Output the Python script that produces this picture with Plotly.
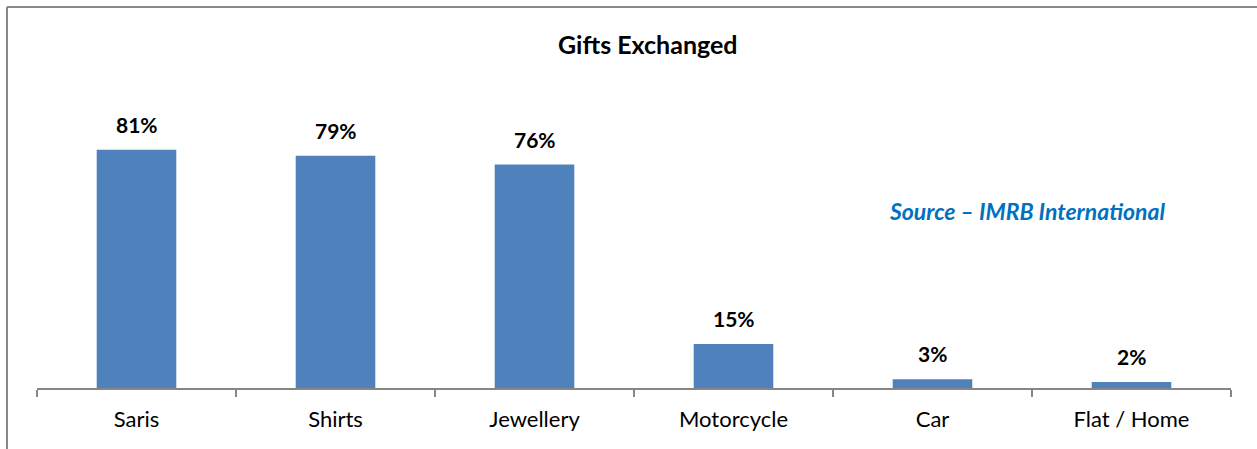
import plotly.graph_objects as go

categories = ["Saris", "Shirts", "Jewellery", "Motorcycle", "Car", "Flat / Home"]
share_pct = [81, 79, 76, 15, 3, 2]
value_labels = [f"{v}%" for v in share_pct]

W, H = 1257, 449
L, R, T, B = 37, 26, 94, 61
plot_w = W - L - R
plot_h = H - T - B

def px_x(x):
    return (x - L) / plot_w

def px_y(y):
    return (H - B - y) / plot_h

FONT = "Lato, 'Open Sans', sans-serif"

fig = go.Figure(
    go.Bar(
        x=categories,
        y=share_pct,
        marker=dict(color="#4F81BD", line=dict(width=0)),
        width=0.4,
        hoverinfo="skip",
    )
)

# value labels above each bar
for cat, v, lab in zip(categories, share_pct, value_labels):
    fig.add_annotation(
        x=cat, y=v, text=f"<b>{lab}</b>", showarrow=False,
        yanchor="bottom", yshift=11,
        font=dict(family=FONT, size=21, color="#000000"),
    )

fig.add_annotation(
    x=px_x(648), y=px_y(44), xref="paper", yref="paper",
    text="<b>Gifts Exchanged</b>", showarrow=False,
    xanchor="center", yanchor="middle",
    font=dict(family=FONT, size=25, color="#000000"),
)

fig.add_annotation(
    x=px_x(1027), y=px_y(211), xref="paper", yref="paper",
    text="<b><i>Source – IMRB International</i></b>", showarrow=False,
    xanchor="center", yanchor="middle",
    font=dict(family=FONT, size=23, color="#0070C0"),
)

# chart frame (top and left edges)
fig.add_shape(type="line", xref="paper", yref="paper",
              x0=px_x(7), x1=px_x(W + 5), y0=px_y(7), y1=px_y(7),
              line=dict(color="#888888", width=2))
fig.add_shape(type="line", xref="paper", yref="paper",
              x0=px_x(7), x1=px_x(7), y0=px_y(7), y1=px_y(H + 5),
              line=dict(color="#888888", width=2))

fig.update_layout(
    width=W, height=H,
    margin=dict(l=L, r=R, t=T, b=B),
    paper_bgcolor="white", plot_bgcolor="white",
    showlegend=False,
    font=dict(family=FONT, color="#000000"),
    xaxis=dict(
        type="category",
        showline=True, linecolor="#868686", linewidth=1.5,
        ticks="outside", tickson="boundaries", ticklen=7, tickcolor="#868686", tickwidth=1.5,
        tickfont=dict(family=FONT, size=22, color="#000000"),
        ticklabelstandoff=11,
        showgrid=False, zeroline=False,
        range=[-0.5, 5.5],
    ),
    yaxis=dict(
        range=[0, 100], visible=False, showgrid=False, zeroline=False,
    ),
)

fig.write_html("out.html")
